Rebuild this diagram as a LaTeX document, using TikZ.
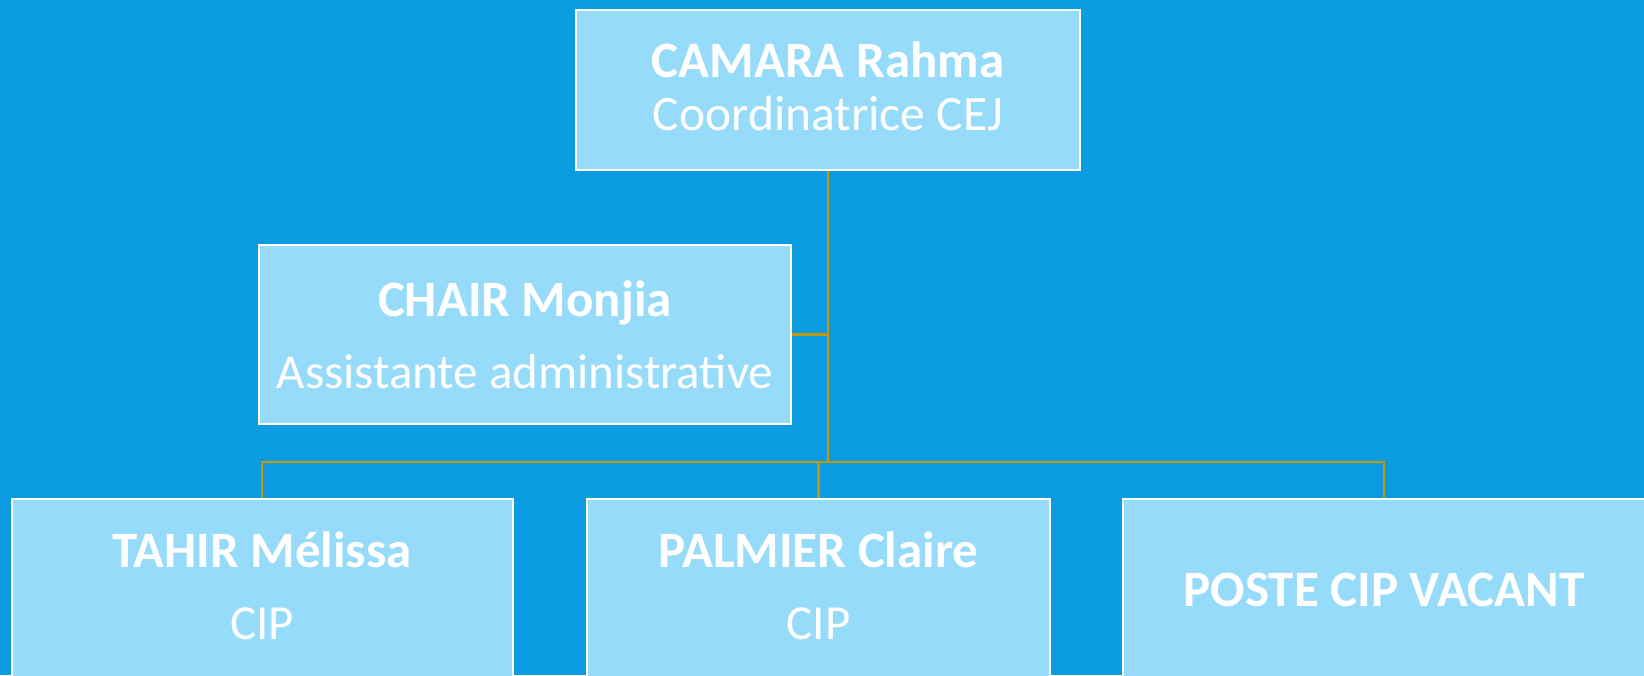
\documentclass[tikz,border=0pt]{standalone}
\usepackage{fontspec}
\setmainfont{Carlito}
\definecolor{bgblue}{RGB}{11,155,224}
\definecolor{boxblue}{RGB}{151,219,250}
\definecolor{linkgold}{RGB}{196,152,0}
\newcommand\who[1]{{\bfseries\fontsize{51}{73}\selectfont #1}}
\tikzset{
  post/.style={draw=white,line width=2pt,fill=boxblue,text=white,align=center,inner sep=0pt,
    font=\fontsize{49}{72}\selectfont},
  link/.style={draw=linkgold,line width=2.4pt}
}
\begin{document}
\begin{tikzpicture}[x=1pt,y=-1pt]
\useasboundingbox (0,0) rectangle (1644,675);
\fill[bgblue] (0,0) rectangle (1644,675);
\clip (0,0) rectangle (1644,675);
% boxes
\node[post,minimum width=504pt,minimum height=160pt,text depth=7pt,font=\fontsize{49.5}{53}\selectfont] (camara) at (828,90) {\who{CAMARA Rahma}\\Coordinatrice CEJ};
\node[post,minimum width=532pt,minimum height=179pt] (chair) at (525,334.5) {\who{CHAIR Monjia}\\Assistante administrative};
\node[post,minimum width=501pt,minimum height=182pt,text depth=8pt] (tahir) at (262,590) {\who{TAHIR Mélissa}\\CIP};
\node[post,minimum width=463pt,minimum height=182pt,text depth=8pt] (palmier) at (818.5,590) {\who{PALMIER Claire}\\CIP};
\node[post,minimum width=522pt,minimum height=182pt] (poste) at (1384,590) {\who{POSTE CIP VACANT}};
\coordinate (bus) at (828,462);
% connectors
\draw[link] (camara.south) -- (bus);
\draw[link] (chair.east) -- (chair.east -| bus);
\draw[link] (tahir.north) |- (bus) -| (poste.north);
\draw[link] (palmier.north) -- (palmier.north |- bus);
\end{tikzpicture}
\end{document}
